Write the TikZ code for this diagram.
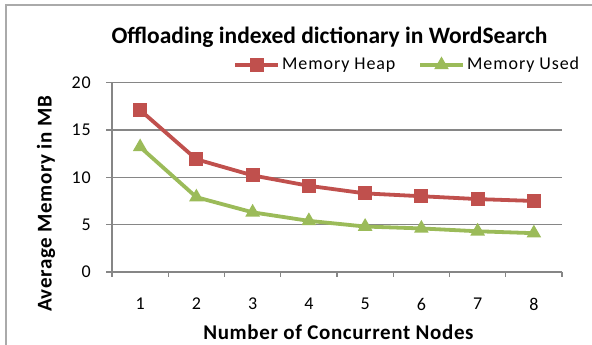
\documentclass[tikz,border=0pt]{standalone}
\usepackage{fontspec}
\setmainfont{Carlito}
\newfontfamily\tickfont[LetterSpace=5]{Carlito}
\newfontfamily\axisfont[LetterSpace=3]{Carlito}
\usetikzlibrary{positioning, calc, shapes.geometric}
\definecolor{heapred}{HTML}{C0504D}
\definecolor{usedgreen}{HTML}{9BBB59}
\definecolor{gridgray}{HTML}{868686}

\begin{document}
\begin{tikzpicture}[x=1pt, y=1pt]
    \tikzset{
      heap-mark/.style={rectangle, fill=heapred, draw=none,
        minimum size=14pt, inner sep=0pt},
      used-mark/.style={regular polygon, regular polygon sides=3,
        fill=usedgreen, draw=none, minimum size=17pt, inner sep=0pt},
      tick-t/.style={font=\tickfont\fontsize{18}{18}\selectfont, inner sep=0pt},
      axis-t/.style={font=\axisfont\fontsize{21}{21}\selectfont\bfseries, inner sep=0pt}
    }
    \useasboundingbox (0,0) rectangle (592,345);
    \draw[gridgray!70, line width=1.2pt] (6,0) -- (6,340) -- (592,340);

    % plot area: x from 112 to 562, value 0 at 73, 20 at 262.4
    \node (origin) at (112,73) {};
    \foreach \v in {5, 10, 15, 20}{
      \draw[gridgray, line width=1.3pt] (112,73+\v*9.47) -- (562,73+\v*9.47);
    }
    \foreach \v in {0, 5, 10, 15, 20}{
      \coordinate (y-tick-\v) at (106,73+\v*9.47);
      \draw[gridgray, line width=1.3pt] (y-tick-\v) -- ++(6,0);
      \node[tick-t, left = 15 of y-tick-\v] (y-tick-\v-t) {\v};
    }
    \draw[gridgray, line width=1.3pt] (origin.center) -- (112,262.4);
    \draw[gridgray, line width=1.3pt] (origin.center) -- (562,73);
    \foreach \x in {0, ..., 8}{
      \draw[gridgray, line width=1.3pt] (112+\x*56.25,73) -- ++(0,-5);
    }
    \foreach \x in {1, ..., 8}{
      \coordinate (x-tick-\x) at (112+\x*56.25-28.125,73);
      \node[tick-t, below = 26 of x-tick-\x] (x-tick-\x-t) {\x};
    }

    % data
    \foreach \x/\v in {1/17.1, 2/11.9, 3/10.2, 4/9.1, 5/8.3, 6/8.0, 7/7.7, 8/7.5}{
      \coordinate (heap-\x) at (112+\x*56.25-28.125,73+\v*9.47);
    }
    \foreach \x/\v in {1/13.2, 2/7.9, 3/6.3, 4/5.4, 5/4.8, 6/4.6, 7/4.3, 8/4.1}{
      \coordinate (used-\x) at (112+\x*56.25-28.125,73+\v*9.47);
    }
    \draw[heapred, line width=3.8pt, line join=round]
      (heap-1) -- (heap-2) -- (heap-3) -- (heap-4) -- (heap-5) -- (heap-6)
      -- (heap-7) -- (heap-8);
    \draw[usedgreen, line width=3.8pt, line join=round]
      (used-1) -- (used-2) -- (used-3) -- (used-4) -- (used-5) -- (used-6)
      -- (used-7) -- (used-8);
    \foreach \x in {1, ..., 8}{
      \node[heap-mark] at (heap-\x) {};
      \node[used-mark] at (used-\x) {};
    }

    % titles
    \node[inner sep=0pt, font=\fontsize{23.5}{23.5}\selectfont\bfseries]
      (title) at (329.5,308) {Offloading indexed dictionary in WordSearch};
    \node[axis-t] (x-axis-t) at (338.5,13) {Number of Concurrent Nodes};
    \node[axis-t, rotate=90] (y-axis-t) at (46,141) {Average Memory in MB};

    % legend
    \coordinate (legend-heap) at (235,280);
    \coordinate (legend-used) at (420,280);
    \draw[heapred, line width=3.8pt] (legend-heap) -- ++(43,0);
    \node[heap-mark] at ($(legend-heap)+(21.5,0)$) {};
    \draw[usedgreen, line width=3.8pt] (legend-used) -- ++(43,0);
    \node[used-mark] at ($(legend-used)+(21.5,0)$) {};
    \node[tick-t, right = 47 of legend-heap] (legend-heap-t) {Memory Heap};
    \node[tick-t, right = 47 of legend-used] (legend-used-t) {Memory Used};
\end{tikzpicture}
\end{document}
